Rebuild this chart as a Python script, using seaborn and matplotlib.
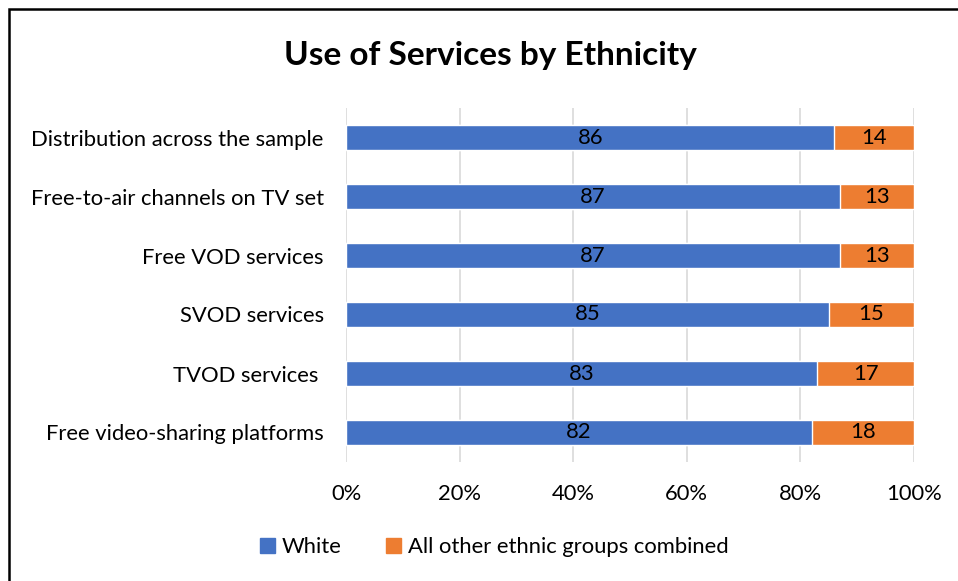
import matplotlib
matplotlib.use("Agg")
import matplotlib.pyplot as plt
import seaborn as sns
import pandas as pd
from matplotlib.patches import Rectangle

categories = [
    "Distribution across the sample",
    "Free-to-air channels on TV set",
    "Free VOD services",
    "SVOD services",
    "TVOD services ",
    "Free video-sharing platforms",
]
white = [86, 87, 87, 85, 83, 82]
other = [14, 13, 13, 15, 17, 18]
series_names = ["White", "All other ethnic groups combined"]
colors = ["#4472C4", "#ED7D31"]
xticks = [0, 20, 40, 60, 80, 100]

sns.set_theme(style="white")
plt.rcParams["font.family"] = ["Lato", "DejaVu Sans"]
plt.rcParams.update({"text.color": "black", "xtick.color": "black",
                     "ytick.color": "black", "axes.labelcolor": "black"})

fig = plt.figure(figsize=(9.58, 5.81), dpi=100)
ax = fig.add_axes([346 / 958, 1 - 462 / 581, (914 - 346) / 958, (462 - 108) / 581])

df = pd.DataFrame({"category": categories, "White": white, "Other": other})
df["Total"] = df["White"] + df["Other"]

# stacked: draw full total (orange) then white on top
sns.barplot(data=df, y="category", x="Total", color=colors[1], width=0.41,
            ax=ax, saturation=1, orient="h")
sns.barplot(data=df, y="category", x="White", color=colors[0], width=0.41,
            ax=ax, saturation=1, orient="h")

fs = 15.8
for i, (w, o) in enumerate(zip(white, other)):
    ax.text(w / 2, i, f"{w}", ha="center", va="center", fontsize=fs, color="black")
    ax.text(w + o / 2, i, f"{o}", ha="center", va="center", fontsize=fs, color="black")

ax.set_xlim(0, 100)
ax.set_ylim(5.5, -0.5)
ax.set_xticks(xticks)
ax.set_xticklabels([f"{t}%" for t in xticks], fontsize=fs)
ax.tick_params(axis="x", pad=16, length=0)
ax.tick_params(axis="y", pad=16, length=0, labelsize=fs)
ax.set_xlabel("")
ax.set_ylabel("")
ax.grid(axis="x", color="#D9D9D9", linewidth=1.2)
ax.set_axisbelow(True)
for s in ax.spines.values():
    s.set_visible(False)

fig.text(490 / 958, 1 - 56 / 581, "Use of Services by Ethnicity", ha="center", va="center",
         fontsize=24, fontweight="bold", color="black")

handles = [Rectangle((0, 0), 1, 1, color=c) for c in colors]
fig.legend(handles, series_names, loc="center", bbox_to_anchor=(494 / 958, 1 - 547 / 581),
           ncol=2, frameon=False, fontsize=fs, handlelength=0.7, handleheight=0.7,
           handletextpad=0.3, columnspacing=2.0)

fig.patches.append(Rectangle((9 / 958, -0.1), 1.2, 1 - 9 / 581 + 0.1, transform=fig.transFigure,
                             fill=False, edgecolor="black", linewidth=1.8))

fig.savefig("out.png", dpi=100)
